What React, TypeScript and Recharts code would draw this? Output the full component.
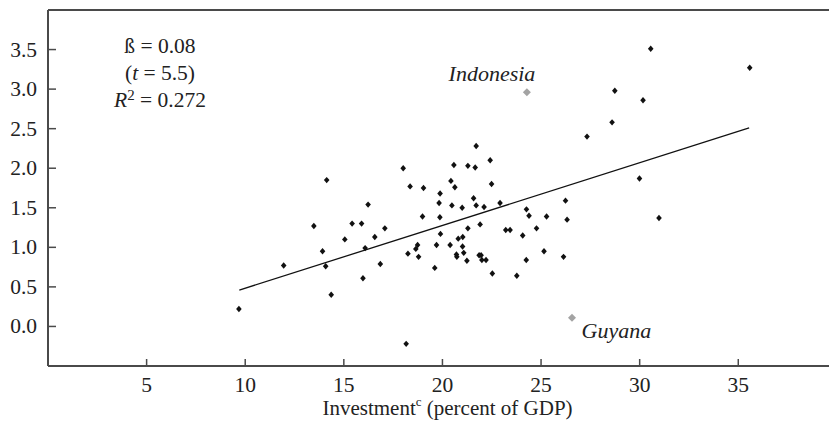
import { ScatterChart, Scatter, XAxis, YAxis, ReferenceLine, Label } from 'recharts';

// investment (% of GDP) and growth for each country
const invest = [
  9.68, 11.95, 13.48, 13.92, 14.08, 14.13, 14.36, 15.05, 15.42, 15.9,
  15.97, 16.08, 16.23, 16.57, 16.85, 17.08, 18.01, 18.16, 18.25, 18.36,
  18.65, 18.74, 18.79, 18.99, 19.04, 19.61, 19.7, 19.83, 19.87, 19.88,
  19.9, 20.39, 20.43, 20.48, 20.58, 20.63, 20.71, 20.73, 20.8, 21.0,
  21.02, 21.03, 21.08, 21.24, 21.29, 21.29, 21.58, 21.66, 21.71, 21.71,
  21.86, 21.91, 21.96, 22.0, 22.11, 22.21, 22.42, 22.49, 22.53, 22.92,
  23.21, 23.43, 23.77, 24.07, 24.25, 24.26, 24.39, 24.77, 25.15, 25.28,
  26.14, 26.24, 26.32, 27.33, 28.6, 28.74, 29.99, 30.17, 30.56, 30.98,
  35.58,
];
const growth = [
  0.22, 0.77, 1.27, 0.95, 0.76, 1.85, 0.4, 1.1, 1.3, 1.3,
  0.61, 0.99, 1.54, 1.13, 0.79, 1.24, 2.0, -0.22, 0.92, 1.77,
  0.98, 1.03, 0.88, 1.39, 1.75, 0.74, 1.03, 1.56, 1.38, 1.68,
  1.17, 1.03, 1.84, 1.53, 2.04, 1.76, 0.91, 0.88, 1.11, 1.5,
  1.01, 1.13, 0.93, 0.83, 2.03, 1.24, 1.62, 2.01, 2.28, 1.53,
  0.9, 1.29, 0.9, 0.84, 1.51, 0.84, 2.1, 1.8, 0.67, 1.56,
  1.22, 1.22, 0.64, 1.15, 0.84, 1.48, 1.4, 1.24, 0.95, 1.39,
  0.88, 1.59, 1.35, 2.4, 2.58, 2.98, 1.87, 2.86, 3.51, 1.37,
  3.27,
];

const outlierNames = ['Indonesia', 'Guyana'];
const outlierInvest = [24.28, 26.57];
const outlierGrowth = [2.96, 0.11];

const fitInvest = [9.7, 35.55];
const fitGrowth = [0.46, 2.51];

const xTicks = [5, 10, 15, 20, 25, 30, 35];
const yTicks = [0, 0.5, 1, 1.5, 2, 2.5, 3, 3.5];

const points = invest.map((x, i) => ({ x, y: growth[i] }));
const outliers = outlierNames.map((name, i) => ({ name, x: outlierInvest[i], y: outlierGrowth[i] }));
const fitLine = fitInvest.map((x, i) => ({ x, y: fitGrowth[i] }));

const FONT = '"Liberation Serif", "Times New Roman", serif';
const AXIS = '#4a4a4a';
const TEXT = '#222';

const labelPos: Record<string, { dx: number; dy: number; anchor: 'start' | 'end' }> = {
  Indonesia: { dx: 8.5, dy: -11.7, anchor: 'end' },
  Guyana: { dx: 9.5, dy: 20, anchor: 'start' },
};

const Dot = (p: any) => {
  const { cx, cy } = p;
  return <path d={`M${cx},${cy - 3.2}L${cx + 2.8},${cy}L${cx},${cy + 3.2}L${cx - 2.8},${cy}Z`} fill="#111" />;
};

const Outlier = (p: any) => {
  const { cx, cy, payload } = p;
  const lp = labelPos[payload.name];
  return (
    <g>
      <path d={`M${cx},${cy - 4}L${cx + 4},${cy}L${cx},${cy + 4}L${cx - 4},${cy}Z`} fill="#a3a3a3" />
      <text x={cx + lp.dx} y={cy + lp.dy} textAnchor={lp.anchor} fontFamily={FONT} fontStyle="italic" fontSize={22} fill={TEXT}>
        {payload.name}
      </text>
    </g>
  );
};

const Nothing = () => <g />;

const XTick = ({ x, y, payload }: any) => (
  <g>
    <line x1={x} y1={y} x2={x} y2={y - 7} stroke={AXIS} strokeWidth={1.5} />
    <text x={x} y={y + 26} textAnchor="middle" fontFamily={FONT} fontSize={21.5} fill={TEXT}>
      {payload.value}
    </text>
  </g>
);

const YTick = ({ x, y, payload }: any) => (
  <g>
    <line x1={x} y1={y} x2={x + 8} y2={y} stroke={AXIS} strokeWidth={1.5} />
    <text x={x - 11} y={y + 7} textAnchor="end" fontFamily={FONT} fontSize={21.5} fill={TEXT}>
      {Number(payload.value).toFixed(1)}
    </text>
  </g>
);

const XTitle = ({ viewBox }: any) => {
  const { x, y, width } = viewBox;
  return (
    <text x={x + width / 2 + 9} y={y + 49} textAnchor="middle" fontFamily={FONT} fontSize={21} fill={TEXT}>
      Investment
      <tspan fontSize={13} dy={-9}>c</tspan>
      <tspan dy={9}> (percent of GDP)</tspan>
    </text>
  );
};

export default function App() {
  return (
    <div style={{ position: 'relative', width: 829, height: 425, background: '#fff' }}>
      <style>{'body{margin:0}'}</style>
      <ScatterChart width={829} height={425} margin={{ top: 10, right: 0, bottom: 0, left: 0 }}>
        <XAxis
          type="number"
          dataKey="x"
          domain={[0, 39.6]}
          ticks={xTicks}
          interval={0}
          allowDataOverflow
          height={59}
          tickSize={0}
          tickMargin={0}
          tick={<XTick />}
          axisLine={{ stroke: AXIS, strokeWidth: 2 }}
        >
          <Label content={<XTitle />} />
        </XAxis>
        <YAxis
          type="number"
          dataKey="y"
          domain={[-0.5, 4]}
          ticks={yTicks}
          interval={0}
          allowDataOverflow
          width={48}
          tickSize={0}
          tickMargin={0}
          tick={<YTick />}
          axisLine={{ stroke: AXIS, strokeWidth: 2 }}
        />
        <ReferenceLine y={4} stroke={AXIS} strokeWidth={2} />
        <Scatter data={fitLine} line={{ stroke: '#111', strokeWidth: 1.3 }} shape={<Nothing />} isAnimationActive={false} />
        <Scatter data={points} shape={<Dot />} isAnimationActive={false} />
        <Scatter data={outliers} shape={<Outlier />} isAnimationActive={false} />
      </ScatterChart>
      <div
        style={{
          position: 'absolute',
          left: 110,
          top: 33,
          width: 100,
          textAlign: 'center',
          fontFamily: FONT,
          fontSize: 21.5,
          lineHeight: '27px',
          color: TEXT,
          whiteSpace: 'nowrap',
        }}
      >
        <div>ß = 0.08</div>
        <div>
          (<i>t</i> = 5.5)
        </div>
        <div>
          <i>R</i>
          <span style={{ fontSize: 15, position: 'relative', top: -7 }}>2</span> = 0.272
        </div>
      </div>
    </div>
  );
}
